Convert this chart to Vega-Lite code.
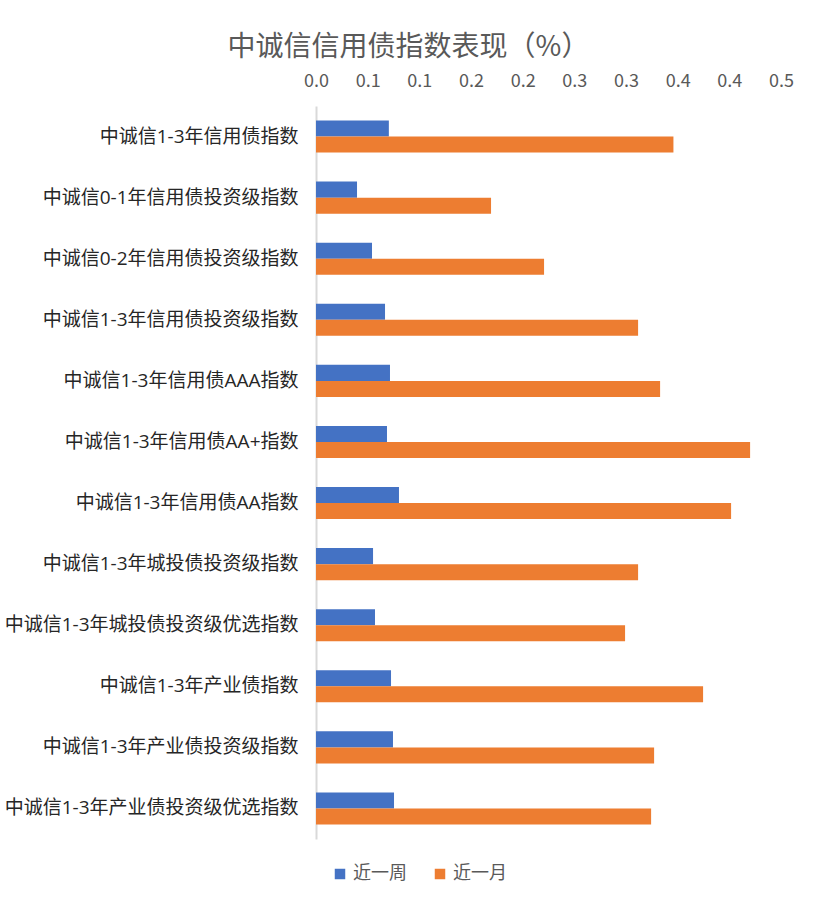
{
  "$schema": "https://vega.github.io/schema/vega-lite/v6.json",
  "description": "中诚信信用债指数表现：近一周与近一月（%）",
  "autosize": {"type": "none"},
  "padding": {"left": 316, "top": 106, "right": 38, "bottom": 67},
  "width": 465,
  "height": 733,
  "background": "#ffffff",
  "title": {
    "text": "中诚信信用债指数表现（%）",
    "anchor": "middle",
    "dx": -140,
    "offset": 10,
    "fontSize": 28,
    "fontWeight": "normal",
    "color": "#595959",
    "font": "Noto Sans CJK SC"
  },
  "data": {
    "values": [
      {"index": "中诚信1-3年信用债指数", "period": "近一周", "value": 0.0705},
      {"index": "中诚信1-3年信用债指数", "period": "近一月", "value": 0.3459},
      {"index": "中诚信0-1年信用债投资级指数", "period": "近一周", "value": 0.0397},
      {"index": "中诚信0-1年信用债投资级指数", "period": "近一月", "value": 0.1694},
      {"index": "中诚信0-2年信用债投资级指数", "period": "近一周", "value": 0.0542},
      {"index": "中诚信0-2年信用债投资级指数", "period": "近一月", "value": 0.2207},
      {"index": "中诚信1-3年信用债投资级指数", "period": "近一周", "value": 0.0668},
      {"index": "中诚信1-3年信用债投资级指数", "period": "近一月", "value": 0.3117},
      {"index": "中诚信1-3年信用债AAA指数", "period": "近一周", "value": 0.0716},
      {"index": "中诚信1-3年信用债AAA指数", "period": "近一月", "value": 0.333},
      {"index": "中诚信1-3年信用债AA+指数", "period": "近一周", "value": 0.0687},
      {"index": "中诚信1-3年信用债AA+指数", "period": "近一月", "value": 0.4201},
      {"index": "中诚信1-3年信用债AA指数", "period": "近一周", "value": 0.0803},
      {"index": "中诚信1-3年信用债AA指数", "period": "近一月", "value": 0.4017},
      {"index": "中诚信1-3年城投债投资级指数", "period": "近一周", "value": 0.0552},
      {"index": "中诚信1-3年城投债投资级指数", "period": "近一月", "value": 0.3117},
      {"index": "中诚信1-3年城投债投资级优选指数", "period": "近一周", "value": 0.0571},
      {"index": "中诚信1-3年城投债投资级优选指数", "period": "近一月", "value": 0.2991},
      {"index": "中诚信1-3年产业债指数", "period": "近一周", "value": 0.0726},
      {"index": "中诚信1-3年产业债指数", "period": "近一月", "value": 0.3746},
      {"index": "中诚信1-3年产业债投资级指数", "period": "近一周", "value": 0.0745},
      {"index": "中诚信1-3年产业债投资级指数", "period": "近一月", "value": 0.3272},
      {"index": "中诚信1-3年产业债投资级优选指数", "period": "近一周", "value": 0.0755},
      {"index": "中诚信1-3年产业债投资级优选指数", "period": "近一月", "value": 0.3243}
    ]
  },
  "mark": {"type": "bar"},
  "encoding": {
    "y": {
      "field": "index",
      "type": "nominal",
      "sort": null,
      "scale": {"paddingInner": 0.476, "paddingOuter": 0.238},
      "axis": {
        "title": null,
        "ticks": false,
        "domainColor": "#d9d9d9",
        "domainWidth": 2,
        "labelPadding": 18,
        "labelFontSize": 19,
        "labelColor": "#262626",
        "labelFont": "Open Sans, Noto Sans CJK SC",
        "labelLimit": 400
      }
    },
    "yOffset": {
      "field": "period",
      "type": "nominal",
      "sort": ["近一周", "近一月"],
      "scale": {"paddingInner": 0, "paddingOuter": 0}
    },
    "x": {
      "field": "value",
      "type": "quantitative",
      "scale": {"domain": [0, 0.45], "nice": false},
      "axis": {
        "orient": "top",
        "title": null,
        "domain": false,
        "ticks": false,
        "grid": false,
        "labelFlush": false,
        "labelOverlap": false,
        "values": [0, 0.05, 0.1, 0.15, 0.2, 0.25, 0.3, 0.35, 0.4, 0.45],
        "labelExpr": "format(datum.value + 0.0001, '.1f')",
        "labelPadding": 16,
        "labelFontSize": 18,
        "labelColor": "#595959",
        "labelFont": "Noto Sans CJK SC"
      }
    },
    "color": {
      "field": "period",
      "type": "nominal",
      "scale": {"domain": ["近一周", "近一月"], "range": ["#4472C4", "#ED7D31"]},
      "legend": {
        "title": null,
        "orient": "none",
        "direction": "horizontal",
        "legendX": 15,
        "legendY": 759,
        "symbolType": "square",
        "symbolSize": 110,
        "symbolStrokeWidth": 0,
        "labelFontSize": 18,
        "labelOffset": 4,
        "labelColor": "#595959",
        "labelFont": "Noto Sans CJK SC",
        "columnPadding": 24
      }
    }
  },
  "config": {"view": {"stroke": null}}
}
